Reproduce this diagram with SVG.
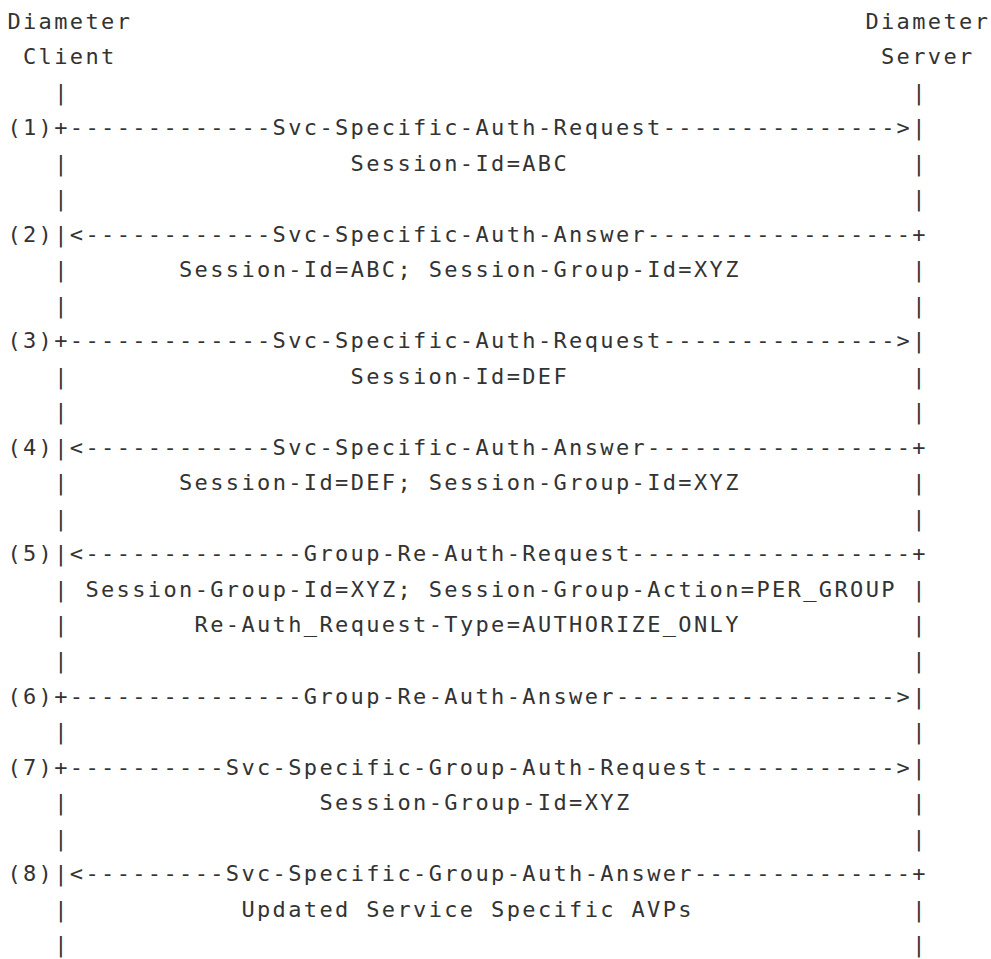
<svg xmlns="http://www.w3.org/2000/svg" width="991" height="959" viewBox="0 0 991 959">
  <style>
    text { font-family: "DejaVu Sans Mono", "Liberation Mono", monospace; font-size: 22px; letter-spacing: 2.36px; fill: #333333; white-space: pre; }
  </style>
  <rect width="991" height="959" fill="#ffffff"/>

  <!-- Column pitch 15.6px from x=7.4; row pitch 35.52px from baseline 28.5 -->

  <g id="client-node">
    <text x="7.4" y="28.5">Diameter</text>
    <text x="23" y="64">Client</text>
  </g>

  <g id="server-node">
    <text x="865.4" y="28.5">Diameter</text>
    <text x="881" y="64">Server</text>
  </g>

  <g id="connectors">
    <!-- lifelines: client at column 3, server at column 58 -->
    <g id="lifelines">
      <text y="99.6"><tspan x="54.2">|</tspan><tspan x="912.2">|</tspan></text>
      <text y="170.6"><tspan x="54.2">|</tspan><tspan x="912.2">|</tspan></text>
      <text y="206.1"><tspan x="54.2">|</tspan><tspan x="912.2">|</tspan></text>
      <text y="277.2"><tspan x="54.2">|</tspan><tspan x="912.2">|</tspan></text>
      <text y="312.7"><tspan x="54.2">|</tspan><tspan x="912.2">|</tspan></text>
      <text y="383.8"><tspan x="54.2">|</tspan><tspan x="912.2">|</tspan></text>
      <text y="419.3"><tspan x="54.2">|</tspan><tspan x="912.2">|</tspan></text>
      <text y="490.3"><tspan x="54.2">|</tspan><tspan x="912.2">|</tspan></text>
      <text y="525.9"><tspan x="54.2">|</tspan><tspan x="912.2">|</tspan></text>
      <text y="596.9"><tspan x="54.2">|</tspan><tspan x="912.2">|</tspan></text>
      <text y="632.4"><tspan x="54.2">|</tspan><tspan x="912.2">|</tspan></text>
      <text y="668.0"><tspan x="54.2">|</tspan><tspan x="912.2">|</tspan></text>
      <text y="739.0"><tspan x="54.2">|</tspan><tspan x="912.2">|</tspan></text>
      <text y="810.1"><tspan x="54.2">|</tspan><tspan x="912.2">|</tspan></text>
      <text y="845.6"><tspan x="54.2">|</tspan><tspan x="912.2">|</tspan></text>
      <text y="916.6"><tspan x="54.2">|</tspan><tspan x="912.2">|</tspan></text>
      <text y="952.2"><tspan x="54.2">|</tspan><tspan x="912.2">|</tspan></text>
    </g>

    <g id="msg-1">
      <text y="135.1"><tspan x="7.4">(1)+-------------</tspan><tspan x="272.6">Svc-Specific-Auth-Request---------------</tspan><tspan x="896.6">&gt;|</tspan></text>
      <text x="350.6" y="170.6">Session-Id=ABC</text>
    </g>

    <g id="msg-2">
      <text y="241.7"><tspan x="7.4">(2)|&lt;------------</tspan><tspan x="272.6">Svc-Specific-Auth-Answer-----------------</tspan><tspan x="912.2">+</tspan></text>
      <text x="179" y="277.2">Session-Id=ABC; Session-Group-Id=XYZ</text>
    </g>

    <g id="msg-3">
      <text y="348.2"><tspan x="7.4">(3)+-------------</tspan><tspan x="272.6">Svc-Specific-Auth-Request---------------</tspan><tspan x="896.6">&gt;|</tspan></text>
      <text x="350.6" y="383.8">Session-Id=DEF</text>
    </g>

    <g id="msg-4">
      <text y="454.8"><tspan x="7.4">(4)|&lt;------------</tspan><tspan x="272.6">Svc-Specific-Auth-Answer-----------------</tspan><tspan x="912.2">+</tspan></text>
      <text x="179" y="490.3">Session-Id=DEF; Session-Group-Id=XYZ</text>
    </g>

    <g id="msg-5">
      <text y="561.3"><tspan x="7.4">(5)|&lt;--------------</tspan><tspan x="303.8">Group-Re-Auth-Request------------------</tspan><tspan x="912.2">+</tspan></text>
      <text x="85.4" y="596.9">Session-Group-Id=XYZ; Session-Group-Action=PER_GROUP</text>
      <text x="194.6" y="632.4">Re-Auth_Request-Type=AUTHORIZE_ONLY</text>
    </g>

    <g id="msg-6">
      <text y="703.5"><tspan x="7.4">(6)+---------------</tspan><tspan x="303.8">Group-Re-Auth-Answer------------------</tspan><tspan x="896.6">&gt;|</tspan></text>
    </g>

    <g id="msg-7">
      <text y="774.5"><tspan x="7.4">(7)+----------</tspan><tspan x="225.8">Svc-Specific-Group-Auth-Request------------</tspan><tspan x="896.6">&gt;|</tspan></text>
      <text x="319.4" y="810.1">Session-Group-Id=XYZ</text>
    </g>

    <g id="msg-8">
      <text y="881.1"><tspan x="7.4">(8)|&lt;---------</tspan><tspan x="225.8">Svc-Specific-Group-Auth-Answer--------------</tspan><tspan x="912.2">+</tspan></text>
      <text x="241.4" y="916.6">Updated Service Specific AVPs</text>
    </g>
  </g>
</svg>
